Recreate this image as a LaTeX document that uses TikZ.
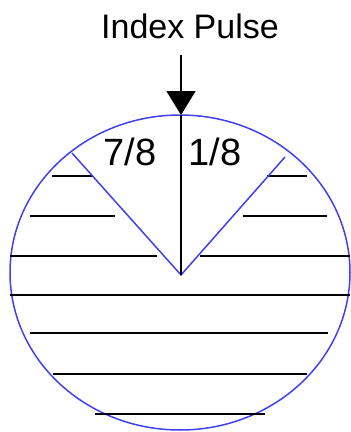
\documentclass[tikz,border=0pt]{standalone}
\usepackage{fontspec}
\setmainfont{Liberation Sans}
\usetikzlibrary{arrows.meta}
\definecolor{ringblue}{RGB}{64,64,240}

\begin{document}
\begin{tikzpicture}[
  x=1pt, y=-1pt,
  ring/.style={draw=ringblue, line width=1.5pt},
  hatch/.style={draw=black, line width=1.6pt},
  frac/.style={font=\fontsize{38}{40}\selectfont, anchor=base, inner sep=0pt},
  every node/.style={inner sep=0pt}
]
\useasboundingbox (0,0) rectangle (351,432);
\node[font=\fontsize{34}{36}\selectfont, anchor=base] (pulse) at (190,38) {Index Pulse};
\coordinate (tail) at (181,55);
\coordinate (top) at (181,115);
\coordinate (apex) at (181,275);
\coordinate (leftend) at (72,153);
\coordinate (rightend) at (285,157);
\draw[ring] (180,272.5) ellipse [x radius=170pt, y radius=157.5pt];
\foreach \y/\a/\b in {176/52/93, 176/267/307, 216/30/115, 216/243/327,
                      256/10/157, 256/200/350, 295/10/350, 333/30/328,
                      374/53/307, 414/95/265}
  \draw[hatch] (\a,\y) -- (\b,\y);
\draw[ring] (leftend) -- (apex) -- (rightend);
\draw[line width=1.6pt, -{Triangle[length=24pt, width=29pt]}] (tail) -- (top);
\draw[line width=1.6pt] (top) -- (apex);
\node[frac] (seven) at (130,165) {7/8};
\node[frac] (one) at (215,165) {1/8};
\end{tikzpicture}
\end{document}
